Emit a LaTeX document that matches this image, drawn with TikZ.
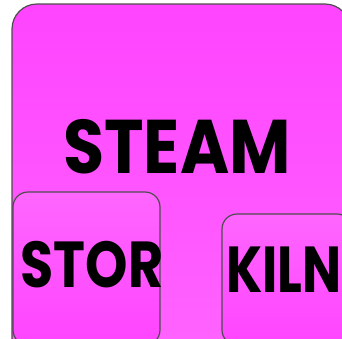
\documentclass[tikz,border=0pt]{standalone}
\usepackage{fontspec}
\setmainfont{Poppins}[UprightFont=* Bold]
\usetikzlibrary{positioning}

\definecolor{binpink}{HTML}{FF44FF}
\definecolor{binlight}{HTML}{FF66FF}
\definecolor{binedge}{HTML}{4D4D4D}

\begin{document}
\begin{tikzpicture}[x=1pt, y=-1pt,
    bin/.style={draw=binedge, line width=1.2pt, rounded corners=#1},
    word/.style={inner sep=0pt, text=black}]

    \useasboundingbox (0,0) rectangle (342,338);
    \clip (0,0) rectangle (342,338);

    % Add the boxes
    \draw[bin=25pt, top color=binpink, bottom color=binlight]
        (12,4) rectangle (350,380);
    \draw[bin=15pt, top color=binlight, bottom color=binpink]
        (13,192) rectangle (160,345);
    \draw[bin=15pt, top color=binlight, bottom color=binpink]
        (222,214) rectangle (352,345);

    % Add the labels
    \node[word, font=\fontsize{76}{76}\selectfont, xscale=0.88] (steam) at (177,147) {STEAM};
    \node[word, font=\fontsize{65}{65}\selectfont, xscale=0.83] (stor)  at (92,265)  {STOR};
    \node[word, font=\fontsize{65}{65}\selectfont, xscale=0.8]  (kiln)  at (284,270) {KILN};
\end{tikzpicture}
\end{document}
